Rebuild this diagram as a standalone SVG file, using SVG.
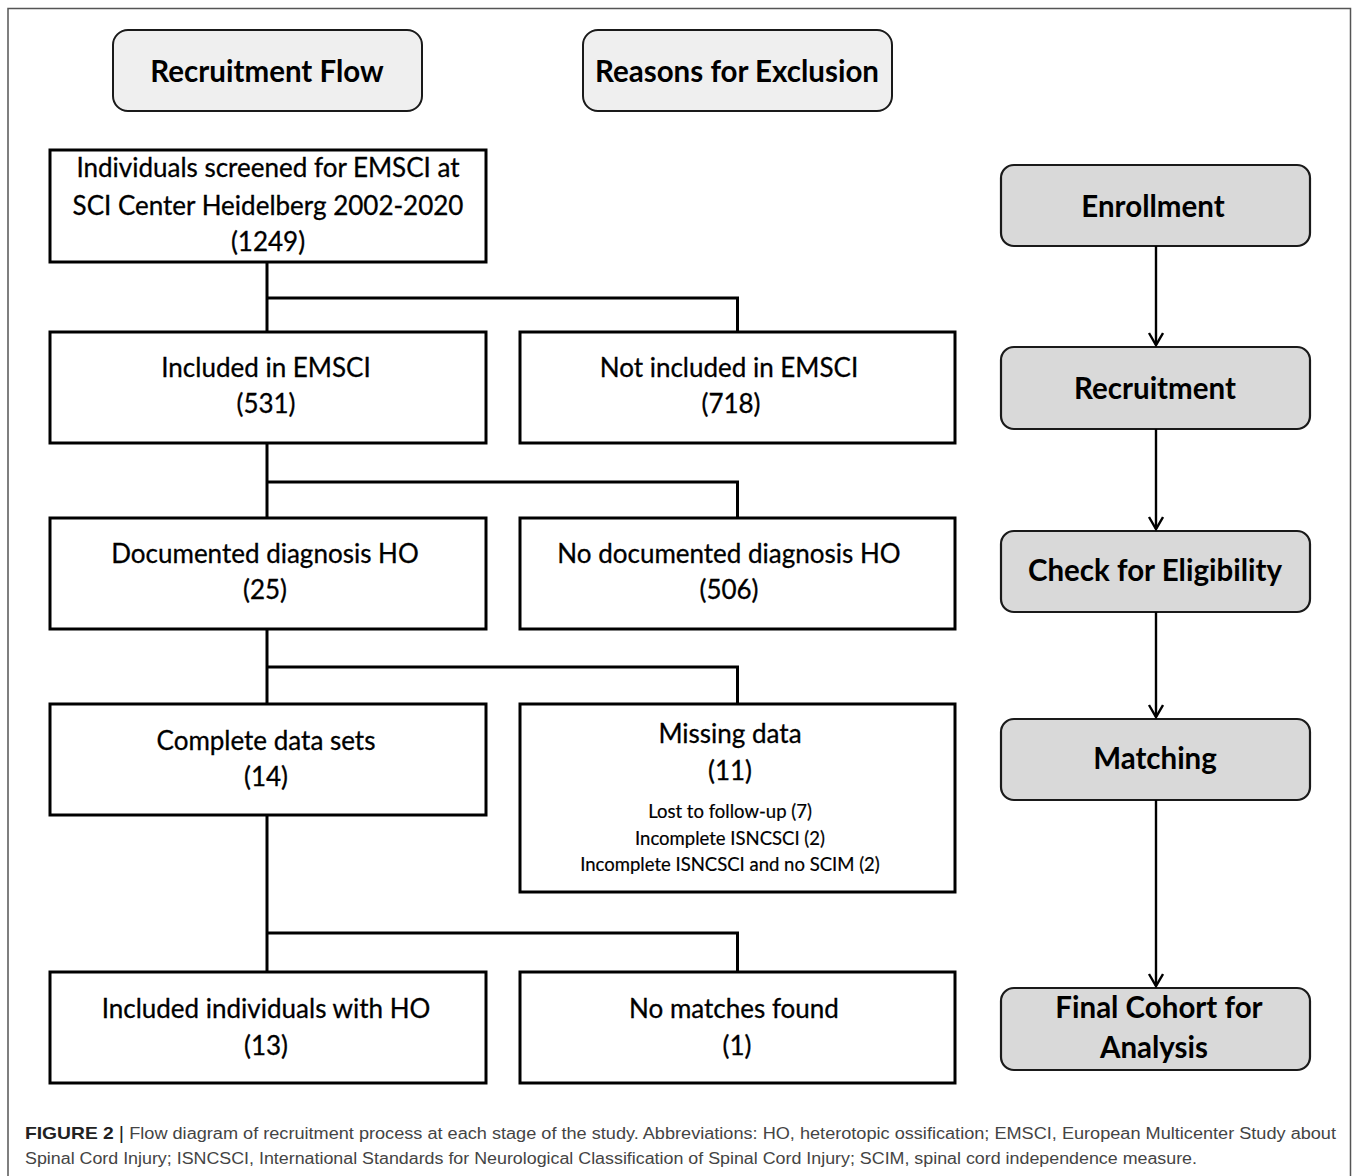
<svg xmlns="http://www.w3.org/2000/svg" width="1354" height="1176" viewBox="0 0 1354 1176">
<style>
.hdr{fill:#efefef;stroke:#1a1a1a;stroke-width:2}
.box{fill:#fff;stroke:#000;stroke-width:3}
.step{fill:#d9d9d9;stroke:#1a1a1a;stroke-width:2.2}
.t{font-family:Lato,"Open Sans",sans-serif;font-size:26px;fill:#000;text-anchor:middle;stroke:#000;stroke-width:0.3}
.b{font-family:Lato,"Open Sans",sans-serif;font-size:29.5px;font-weight:bold;fill:#000;text-anchor:middle}
.s{font-family:Lato,"Open Sans",sans-serif;font-size:18.5px;fill:#000;text-anchor:middle;stroke:#000;stroke-width:0.2}
.cap{font-family:"Liberation Sans Narrow","Liberation Sans",Arial,sans-serif;font-size:16px;fill:#444}
.ln{fill:none;stroke:#000;stroke-width:3}
.ar{fill:none;stroke:#000;stroke-width:2.4}
</style>
<defs>
<marker id="arr" markerWidth="18" markerHeight="18" refX="13" refY="8" orient="auto" markerUnits="userSpaceOnUse">
<path d="M1,1 L13,8 L1,15" fill="none" stroke="#000" stroke-width="2.4"/>
</marker>
</defs>
<rect width="1354" height="1176" fill="#fff"/>
<path d="M8,1176 V8.5 H1350.5 V1176" fill="none" stroke="#555" stroke-width="1.5"/>

<g id="hdr-recruitment">
<rect class="hdr" x="113" y="30" width="309" height="81" rx="15"/>
<text class="b" x="267" y="82">Recruitment Flow</text>
</g>
<g id="hdr-exclusion">
<rect class="hdr" x="583" y="30" width="309" height="81" rx="15"/>
<text class="b" x="737" y="82">Reasons for Exclusion</text>
</g>

<g id="n-screened">
<rect class="box" x="50" y="150" width="436" height="112"/>
<text class="t" x="268" y="177">Individuals screened for EMSCI at</text>
<text class="t" x="268" y="215">SCI Center Heidelberg 2002-2020</text>
<text class="t" x="268" y="251">(1249)</text>
</g>
<g id="n-included">
<rect class="box" x="50" y="332" width="436" height="111"/>
<text class="t" x="266" y="377">Included in EMSCI</text>
<text class="t" x="266" y="413">(531)</text>
</g>
<g id="n-notincluded">
<rect class="box" x="520" y="332" width="435" height="111"/>
<text class="t" x="729" y="377">Not included in EMSCI</text>
<text class="t" x="731" y="413">(718)</text>
</g>
<g id="n-documented">
<rect class="box" x="50" y="518" width="436" height="111"/>
<text class="t" x="265" y="563">Documented diagnosis HO</text>
<text class="t" x="265" y="599">(25)</text>
</g>
<g id="n-nodocumented">
<rect class="box" x="520" y="518" width="435" height="111"/>
<text class="t" x="729" y="563">No documented diagnosis HO</text>
<text class="t" x="729" y="599">(506)</text>
</g>
<g id="n-complete">
<rect class="box" x="50" y="704" width="436" height="111"/>
<text class="t" x="266" y="750">Complete data sets</text>
<text class="t" x="266" y="786">(14)</text>
</g>
<g id="n-missing">
<rect class="box" x="520" y="704" width="435" height="188"/>
<text class="t" x="730" y="743">Missing data</text>
<text class="t" x="730" y="780">(11)</text>
<text class="s" x="730" y="818">Lost to follow-up (7)</text>
<text class="s" x="730" y="845">Incomplete ISNCSCI (2)</text>
<text class="s" x="730" y="871">Incomplete ISNCSCI and no SCIM (2)</text>
</g>
<g id="n-final">
<rect class="box" x="50" y="972" width="436" height="111"/>
<text class="t" x="266" y="1018">Included individuals with HO</text>
<text class="t" x="266" y="1055">(13)</text>
</g>
<g id="n-nomatch">
<rect class="box" x="520" y="972" width="435" height="111"/>
<text class="t" x="734" y="1018">No matches found</text>
<text class="t" x="737" y="1055">(1)</text>
</g>

<g id="s-enrollment">
<rect class="step" x="1001" y="165" width="309" height="81" rx="13"/>
<text class="b" x="1153" y="217">Enrollment</text>
</g>
<g id="s-recruitment">
<rect class="step" x="1001" y="347" width="309" height="82" rx="13"/>
<text class="b" x="1155" y="399">Recruitment</text>
</g>
<g id="s-eligibility">
<rect class="step" x="1001" y="531" width="309" height="81" rx="13"/>
<text class="b" x="1155" y="581">Check for Eligibility</text>
</g>
<g id="s-matching">
<rect class="step" x="1001" y="719" width="309" height="81" rx="13"/>
<text class="b" x="1155" y="769">Matching</text>
</g>
<g id="s-final">
<rect class="step" x="1001" y="988" width="309" height="82" rx="13"/>
<text class="b" x="1159" y="1018">Final Cohort for</text>
<text class="b" x="1154" y="1058">Analysis</text>
</g>

<g id="connectors">
<path class="ln" d="M267,262 V332 M267,298 H737.5 V332"/>
<path class="ln" d="M267,443 V518 M267,482 H737.5 V518"/>
<path class="ln" d="M267,629 V704 M267,667 H737.5 V704"/>
<path class="ln" d="M267,815 V972 M267,933 H737.5 V972"/>
<line class="ar" x1="1156" y1="246" x2="1156" y2="345" marker-end="url(#arr)"/>
<line class="ar" x1="1156" y1="429" x2="1156" y2="529" marker-end="url(#arr)"/>
<line class="ar" x1="1156" y1="612" x2="1156" y2="717" marker-end="url(#arr)"/>
<line class="ar" x1="1156" y1="800" x2="1156" y2="986" marker-end="url(#arr)"/>
</g>

<g id="caption">
<text class="cap" x="25" y="1139" textLength="1311" lengthAdjust="spacingAndGlyphs"><tspan font-weight="bold" font-size="17" fill="#222">FIGURE 2</tspan> <tspan font-size="18" fill="#222">|</tspan> Flow diagram of recruitment process at each stage of the study. Abbreviations: HO, heterotopic ossification; EMSCI, European Multicenter Study about</text>
<text class="cap" x="25" y="1164" textLength="1172" lengthAdjust="spacingAndGlyphs">Spinal Cord Injury; ISNCSCI, International Standards for Neurological Classification of Spinal Cord Injury; SCIM, spinal cord independence measure.</text>
</g>
</svg>
